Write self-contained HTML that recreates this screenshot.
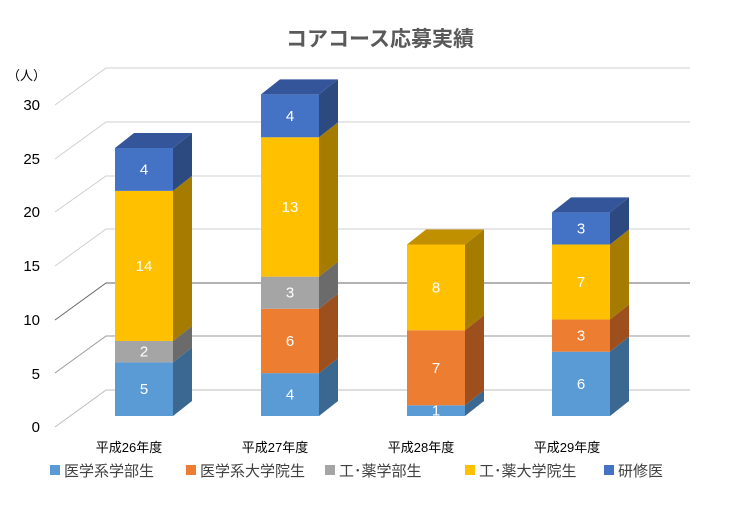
<!DOCTYPE html><html><head><meta charset="utf-8"><style>body{margin:0;background:#fff}svg{display:block;font-family:"Liberation Sans","Noto Sans CJK JP",sans-serif}</style></head><body>
<svg width="730" height="510" viewBox="0 0 730 510">
<text x="380" y="46" text-anchor="middle" font-size="21" font-weight="bold" fill="#595959">コアコース応募実績</text>
<g stroke-width="1" fill="none">
<path d="M55 427L106 390H690" stroke="#bdbdbd"/>
<path d="M55 373L106 336H690" stroke="#9a9a9a"/>
<path d="M55 320L106 283H690" stroke="#666"/>
<path d="M55 266L106 229H690" stroke="#d0d0d0"/>
<path d="M55 212L106 176H690" stroke="#d0d0d0"/>
<path d="M55 159L106 122H690" stroke="#d0d0d0"/>
<path d="M55 105L106 68H690" stroke="#d0d0d0"/>
</g>
<g font-size="15" fill="#000" text-anchor="end">
<text x="40" y="432">0</text><text x="40" y="379">5</text><text x="40" y="325">10</text><text x="40" y="271">15</text><text x="40" y="217">20</text><text x="40" y="164">25</text><text x="40" y="110">30</text>
<text x="46" y="80" font-size="13">（人）</text>
</g>
<g id="bars" font-size="15" fill="#fff" text-anchor="middle"></g>
<g font-size="13" fill="#000" text-anchor="middle">
<text x="129" y="452">平成26年度</text><text x="275" y="452">平成27年度</text><text x="421" y="452">平成28年度</text><text x="567" y="452">平成29年度</text>
</g>
<g font-size="15" fill="#404040">
<rect x="50" y="465" width="10" height="10" fill="#5B9BD5"/><text x="64" y="476">医学系学部生</text>
<rect x="186" y="465" width="10" height="10" fill="#ED7D31"/><text x="200" y="476">医学系大学院生</text>
<rect x="325" y="465" width="10" height="10" fill="#A5A5A5"/><text x="339" y="476">工･薬学部生</text>
<rect x="465" y="465" width="10" height="10" fill="#FFC000"/><text x="479" y="476">工･薬大学院生</text>
<rect x="604" y="465" width="10" height="10" fill="#4472C4"/><text x="618" y="476">研修医</text>
</g>
</svg>
<script>
var cols=[["#5B9BD5","#3A6890","#4A80B0"],["#ED7D31","#9E4F1E","#C06020"],["#A5A5A5","#6B6B6B","#8a8a8a"],["#FFC000","#A67C00","#C09000"],["#4472C4","#2C4A80","#34559A"]];
var data=[[5,0,2,14,4],[4,6,3,13,4],[1,7,0,8,0],[6,3,0,7,3]];
var xs=[115,261,407,552],w=58,dx=19,dy=15,k=10.72,b=416,s="";
data.forEach(function(d,i){var x=xs[i],c=0,last=-1;d.forEach(function(v,j){if(v>0)last=j});
d.forEach(function(v,j){if(!v)return;var y0=b-c*k,y1=b-(c+v)*k;c+=v;
s+='<rect x="'+x+'" y="'+y1+'" width="'+w+'" height="'+(y0-y1)+'" fill="'+cols[j][0]+'"/>';
s+='<polygon points="'+(x+w)+','+y0+' '+(x+w+dx)+','+(y0-dy)+' '+(x+w+dx)+','+(y1-dy)+' '+(x+w)+','+y1+'" fill="'+cols[j][1]+'"/>';
if(j==last)s+='<polygon points="'+x+','+y1+' '+(x+dx)+','+(y1-dy)+' '+(x+w+dx)+','+(y1-dy)+' '+(x+w)+','+y1+'" fill="'+cols[j][2]+'"/>';
s+='<text x="'+(x+w/2)+'" y="'+((y0+y1)/2+5)+'">'+v+'</text>';});});
document.getElementById("bars").innerHTML=s;
</script>
</body></html>
